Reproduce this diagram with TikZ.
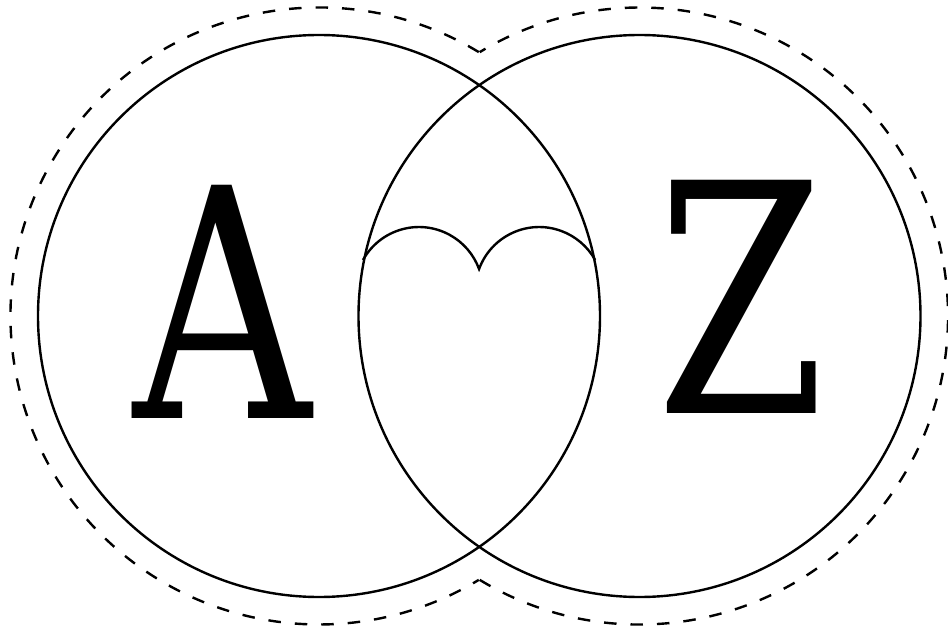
\documentclass[tikz,border=0pt]{standalone}
\usepackage{fontspec}
\newfontfamily\letterfont{DejaVu Serif}
\begin{document}
\begin{tikzpicture}[x=1pt,y=1pt,
  ring/.style={circle,draw,line width=2.4pt,minimum size=562pt,inner sep=0pt},
  outline/.style={line width=2.4pt,dash pattern=on 12.5pt off 14pt},
  heartline/.style={line width=2.4pt,line join=miter},
  bigletter/.style={font=\letterfont\fontsize{320}{320}\selectfont,inner sep=0pt,anchor=base}]
\useasboundingbox (0,0) rectangle (948,633);
% main circles
\node[ring] (L) at (319,317) {};
\node[ring] (R) at (639.5,317) {};
% dashed outer outline (union of the two enlarged circles)
\draw[outline] (L.center) ++(58.8:308.5) arc[start angle=58.8,end angle=301.2,radius=308.5];
\draw[outline] (R.center) ++(-121.2:308.5) arc[start angle=-121.2,end angle=121.2,radius=308.5];
% heart top
\coordinate (hl) at (363,373);
\coordinate (hd) at (479,364);
\draw[heartline] (hl) arc[start angle=151,end angle=20.1,radius=64]
                 arc[start angle=159.9,end angle=29,radius=64];
% letters
\node[bigletter] (A) at (222,215) {\scalebox{0.77}[1]{A}};
\node[bigletter] (Z) at (741,220) {\scalebox{0.76}[1]{Z}};
\end{tikzpicture}
\end{document}
